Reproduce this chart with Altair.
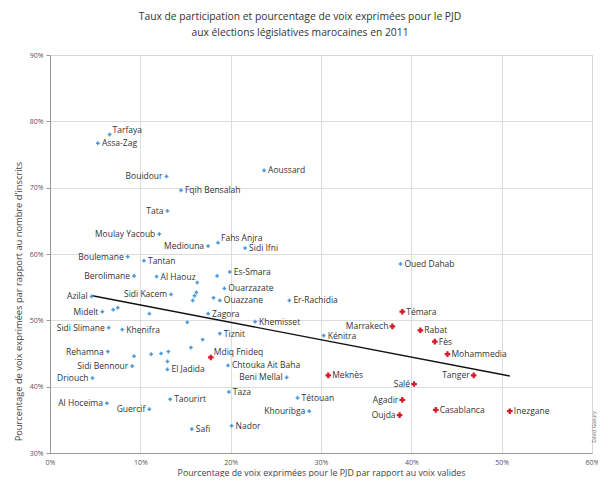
import altair as alt
import pandas as pd

# ---- data ----
names = [
    "Tarfaya", "Assa-Zag", "Bouidour", "Fqih Bensalah", "Aoussard", "Tata",
    "Moulay Yacoub", "Fahs Anjra", "Mediouna", "Sidi Ifni", "Tantan", "Boulemane",
    "Berolimane", "Al Haouz", "Es-Smara", "Ouarzazate", "Ouazzane", "Er-Rachidia",
    "Sidi Kacem", "Azilal", "Midelt", "Zagora", "Khemisset", "Sidi Slimane",
    "Khenifra", "Tiznit", "Kénitra", "Oued Dahab", "Rehamna", "Sidi Bennour",
    "Driouch", "El Jadida", "Chtouka Ait Baha", "Beni Mellal", "Taza", "Tétouan",
    "Khouribga", "Nador", "Safi", "Taourirt", "Guercif", "Al Hoceima",
    "Mdiq Fnideq", "Meknès", "Témara", "Marrakech", "Rabat", "Fès", "Mohammedia",
    "Tanger", "Salé", "Agadir", "Oujda", "Casablanca", "Inezgane",
    "", "", "", "", "", "", "", "", "", "", "", "", "", "", "", "", "",
]
pjd_share = [
    6.6, 5.3, 12.9, 14.5, 23.7, 13.0,
    12.1, 18.6, 17.5, 21.6, 10.4, 8.6,
    9.3, 11.8, 19.9, 19.3, 18.8, 26.5,
    13.4, 4.6, 5.8, 17.5, 22.7, 6.5,
    8.0, 18.8, 30.3, 38.8, 6.4, 9.1,
    4.7, 13.0, 19.7, 26.2, 19.8, 27.4,
    28.7, 20.1, 15.7, 13.3, 11.0, 6.3,
    17.8, 30.8, 39.0, 37.9, 41.0, 42.6, 44.0,
    46.9, 40.3, 39.0, 38.7, 42.7, 50.9,
    7.0, 7.5, 9.3, 11.2, 12.3, 13.1, 13.0, 15.6, 16.9, 15.2, 11.0, 16.3,
    16.2, 16.0, 15.8, 18.5, 18.1,
]
turnout_share = [
    78.0, 76.7, 71.7, 69.6, 72.6, 66.5,
    63.0, 61.7, 61.2, 60.9, 59.0, 59.6,
    56.7, 56.6, 57.3, 54.8, 53.0, 53.0,
    53.9, 53.6, 51.3, 51.0, 49.8, 48.9,
    48.6, 48.0, 47.7, 58.5, 45.3, 43.1,
    41.3, 42.6, 43.2, 41.4, 39.2, 38.3,
    36.3, 34.1, 33.6, 38.1, 36.6, 37.5,
    44.4, 41.7, 51.3, 49.1, 48.5, 46.8, 44.9,
    41.7, 40.4, 38.0, 35.7, 36.5, 36.3,
    51.6, 51.9, 44.6, 44.9, 45.0, 45.3, 43.8, 45.9, 47.1, 49.7, 51.0, 55.7,
    54.2, 53.7, 53.0, 56.7, 53.4,
]
red_names = ["Mdiq Fnideq", "Meknès", "Témara", "Marrakech", "Rabat", "Fès",
             "Mohammedia", "Tanger", "Salé", "Agadir", "Oujda", "Casablanca", "Inezgane"]
left_names = ["Bouidour", "Tata", "Moulay Yacoub", "Mediouna", "Boulemane", "Berolimane",
              "Sidi Kacem", "Azilal", "Midelt", "Sidi Slimane", "Rehamna", "Sidi Bennour",
              "Driouch", "Beni Mellal", "Khouribga", "Guercif", "Al Hoceima",
              "Marrakech", "Tanger", "Salé", "Agadir", "Oujda"]
above_names = ["Tarfaya", "Fahs Anjra", "Mdiq Fnideq"]

trend_x = [4.7, 50.9]
trend_y = [53.7, 41.6]

x_ticks = [0, 10, 20, 30, 40, 50, 60]
y_ticks = [30, 40, 50, 60, 70, 80, 90]

title_lines = ["Taux de participation et pourcentage de voix exprimées pour le PJD",
               "aux élections législatives marocaines en 2011"]
x_title = "Pourcentage de voix exprimées pour le PJD par rapport au voix valides"
y_title = "Pourcentage de voix exprimées par rapport au nombre d'inscrits"
credit = "David Goeury"

# ---- build table ----
def side(n):
    if n == "":
        return "none"
    if n in above_names:
        return "above"
    if n in left_names:
        return "left"
    return "right"

df = pd.DataFrame({
    "name": names,
    "x": pjd_share,
    "y": turnout_share,
    "red": [n in red_names for n in names],
    "side": [side(n) for n in names],
})
trend = pd.DataFrame({"x": trend_x, "y": trend_y})

FONT = "Open Sans"
W, H = 542, 398

xs = alt.Scale(domain=[0, 60], nice=False, zero=False)
ys = alt.Scale(domain=[30, 90], nice=False, zero=False)

X = alt.X("x:Q", scale=xs, title=x_title,
          axis=alt.Axis(values=x_ticks, labelExpr="datum.value + '%'", grid=True,
                        gridColor="#d4d4d4", gridWidth=0.8, domainColor="#9a9a9a",
                        tickSize=0, labelPadding=5, labelFontSize=7, labelColor="#555",
                        labelFont=FONT, titleFont=FONT, titleFontSize=8.8,
                        titleFontWeight="normal", titleColor="#444", titlePadding=3,
                        labelFlush=False))
Y = alt.Y("y:Q", scale=ys, title=y_title,
          axis=alt.Axis(values=y_ticks, labelExpr="datum.value + '%'", grid=True,
                        gridColor="#d4d4d4", gridWidth=0.8, domainColor="#9a9a9a",
                        tickColor="#9a9a9a", tickSize=4, labelPadding=3, labelFontSize=7,
                        labelColor="#555", labelFont=FONT, titleFont=FONT,
                        titleFontSize=9.3, titleFontWeight="normal", titleColor="#444",
                        titlePadding=6, titleY=246, labelFlush=False))

base = alt.Chart(df)

blue_pts = base.transform_filter("!datum.red").mark_point(
    shape="cross", filled=True, size=14, color="#4a9ad8", opacity=1
).encode(x=X, y=Y)

red_pts = base.transform_filter("datum.red").mark_point(
    shape="cross", filled=True, size=32, color="#d7192a", opacity=1
).encode(x=X, y=Y)

txt_kw = dict(font=FONT, fontSize=8.5, color="#333", baseline="middle")
right_txt = base.transform_filter("datum.side == 'right'").mark_text(
    align="left", dx=4, **txt_kw).encode(x=X, y=Y, text="name:N")
left_txt = base.transform_filter("datum.side == 'left'").mark_text(
    align="right", dx=-4, **txt_kw).encode(x=X, y=Y, text="name:N")
above_txt = base.transform_filter("datum.side == 'above'").mark_text(
    align="left", dx=3, dy=-5, **txt_kw).encode(x=X, y=Y, text="name:N")

trend_line = alt.Chart(trend).mark_line(color="#111", strokeWidth=1.4).encode(x=X, y=Y)

credit_txt = alt.Chart(pd.DataFrame({"t": [credit]})).mark_text(
    font=FONT, fontSize=5, color="#666", angle=270, align="center", baseline="middle"
).encode(x=alt.value(W + 2), y=alt.value(372), text="t:N")

chart = alt.layer(
    trend_line, blue_pts, red_pts, right_txt, left_txt, above_txt, credit_txt
).properties(
    width=W, height=H,
    title=alt.TitleParams(text=title_lines, anchor="middle", font=FONT, fontSize=10.3,
                          fontWeight="normal", color="#333", offset=13, lineHeight=16,
                          dx=-21),
    autosize=alt.AutoSizeParams(type="none"),
    padding={"left": 42, "top": 47, "right": 6, "bottom": 24},
).configure_view(stroke=None).configure(background="white")

chart.save("out.html", embed_options={"renderer": "svg", "actions": False})
